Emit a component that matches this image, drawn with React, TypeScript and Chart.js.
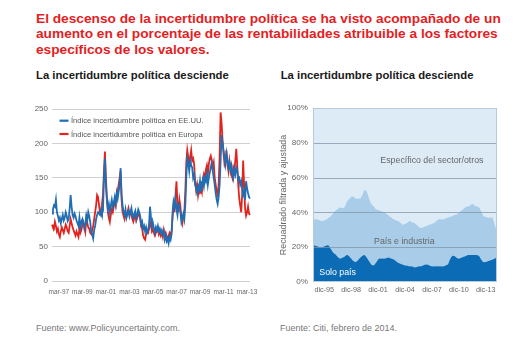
import React, { useEffect, useRef } from 'react';
import { Chart, registerables } from 'chart.js';

Chart.register(...registerables);

const FONT = '"Liberation Sans", Arial, Helvetica, sans-serif';

// ---------- Texts ----------
const titleLines = [
  'El descenso de la incertidumbre política se ha visto acompañado de un',
  'aumento en el porcentaje de las rentabilidades atribuible a los factores',
  'específicos de los valores.',
];
const leftSubtitle = 'La incertidumbre política desciende';
const rightSubtitle = 'La incertidumbre política desciende';
const leftSource = 'Fuente: www.Policyuncertainty.com.';
const rightSource = 'Fuente: Citi, febrero de 2014.';

// ---------- Left chart data (monthly, from ago-96) ----------
const MESES = ['ene', 'feb', 'mar', 'abr', 'may', 'jun', 'jul', 'ago', 'sep', 'oct', 'nov', 'dic'];
const leftStartMonth = 7; // ago
const leftStartYear = 1996;
const leftTickLabels = ['mar-97', 'mar-99', 'mar-01', 'mar-03', 'mar-05', 'mar-07', 'mar-09', 'mar-11', 'mar-13'];
const usLabel = 'Índice incertidumbre política en EE.UU.';
const euLabel = 'Índice incertidumbre política en Europa';

const usIndex = [
  98, 104, 110, 108, 118, 100, 95, 88, 92, 84, 90, 96,
  88, 92, 100, 95, 87, 90, 105, 125, 108, 96, 92, 98,
  94, 88, 84, 80, 92, 78, 86, 90, 84, 76, 82, 95,
  88, 100, 94, 86, 72, 68, 62, 74, 80, 90, 96, 100,
  98, 96, 104, 98, 102, 150, 178, 140, 118, 105, 112, 100,
  110, 118, 108, 114, 122, 112, 128, 120, 130, 140, 164, 125,
  110, 100, 96, 104, 92, 98, 102, 94, 100, 106, 96, 92,
  98, 102, 90, 96, 104, 100, 94, 82, 86, 76, 80, 72,
  78, 70, 74, 82, 108, 92, 80, 84, 76, 70, 78, 74,
  80, 72, 76, 70, 74, 68, 72, 60, 66, 58, 62, 55,
  64, 60, 68, 100, 115, 108, 120, 104, 96, 112, 110, 100,
  86, 92, 98, 90, 110, 150, 178, 172, 160, 175, 168, 165,
  150, 155, 140, 135, 128, 138, 132, 145, 130, 140, 148, 138,
  150, 145, 155, 140, 150, 158, 165, 172, 160, 150, 140, 128,
  118, 112, 122, 140, 175, 212, 200, 190, 180, 170, 185, 175,
  165, 172, 160, 168, 158, 150, 162, 155, 165, 160, 148, 150,
  140, 145, 135, 125, 130, 118, 145, 135, 128, 122, 120,
];

const euIndex = [
  82, 78, 76, 86, 80, 72, 76, 68, 64, 72, 78, 74,
  70, 76, 82, 78, 72, 70, 80, 90, 84, 78, 74, 70,
  66, 72, 68, 64, 76, 70, 74, 82, 86, 80, 72, 90,
  84, 78, 76, 70, 68, 74, 80, 90, 100, 110, 125, 122,
  110, 100, 96, 112, 125, 160, 188, 150, 120, 100, 92, 86,
  96, 104, 100, 108, 115, 110, 125, 130, 140, 150, 160, 118,
  100, 95, 90, 98, 94, 100, 106, 98, 100, 96, 90, 86,
  92, 98, 88, 92, 100, 96, 90, 80, 76, 66, 62, 60,
  68, 72, 70, 76, 86, 80, 72, 74, 70, 66, 70, 72,
  76, 68, 72, 66, 70, 64, 74, 66, 70, 64, 60, 66,
  70, 66, 72, 92, 110, 100, 125, 145, 112, 100, 118, 108,
  92, 84, 94, 100, 130, 172, 190, 180, 168, 180, 190, 175,
  178, 170, 145, 132, 140, 125, 135, 128, 138, 130, 145, 155,
  150, 162, 168, 155, 170, 178, 182, 175, 165, 172, 150, 140,
  130, 125, 140, 180, 245, 230, 205, 185, 170, 175, 190, 170,
  160, 175, 165, 155, 150, 165, 160, 175, 192, 168, 140, 120,
  110, 100, 125, 175, 140, 105, 95, 100, 108, 98, 96,
];

// ---------- Right chart data (quarterly, from sep-94) ----------
const TRIMESTRES = ['mar', 'jun', 'sep', 'dic'];
const rightStartQuarter = 2; // sep
const rightStartYear = 1994;
const rightTickLabels = ['dic-95', 'dic-98', 'dic-01', 'dic-04', 'dic-07', 'dic-10', 'dic-13'];
const rightYTitle = 'Recuadrado filtrada y ajustada';
const soloLabel = 'Solo país';
const paisLabel = 'País e industria';
const especificoLabel = 'Específico del sector/otros';

// share "Solo país" (%)
const soloPais = [
  21, 21, 20.5, 20, 20, 20.5, 21, 21, 19, 17,
  16, 14.5, 13.5, 14, 14.5, 15.5, 15, 13.5, 12, 11.5,
  12.5, 14, 15, 15.5, 14, 12, 10, 9.5, 11, 13,
  13.5, 13.5, 13.5, 14, 14, 13.5, 13, 12, 11, 10.5,
  10, 9.5, 9.5, 9, 9, 8.5, 8.5, 9, 9, 9.5,
  10, 10, 9.5, 9, 9, 9, 9, 9, 9, 9.5,
  10, 13, 15, 15, 14, 13.5, 14, 14.5, 15, 15.5,
  15.5, 15.5, 15.5, 15.5, 15, 13, 11.5, 11.5, 12, 12.5,
  13, 13.5, 14.5,
];
// cumulative "Solo país" + "País e industria" (%)
const paisEIndustriaAcum = [
  36, 36, 36, 35.5, 35, 35.5, 36, 37, 38, 39.5,
  41, 42, 43, 42.5, 43, 46, 47.5, 49, 49, 48,
  48, 48, 50, 53, 52, 48, 45, 43.5, 42, 41.5,
  41, 40.5, 40, 39, 38, 37, 36, 35.5, 35, 34,
  33, 33.5, 34, 35, 34.5, 34, 33, 32, 31, 31.5,
  32, 32.5, 33, 33.5, 34, 35, 36, 36, 36, 36.5,
  37, 37.5, 38, 38.5, 39, 40, 41, 42, 43, 43.5,
  44, 45, 44, 43.5, 43, 40.5, 38, 37.5, 37, 37,
  37, 33, 29,
];
const TOTAL = 100;

// in-plot labels (data coordinates: category index, value %)
const rightNotes = [
  { text: especificoLabel, index: 53, value: 69.5, color: '#666666', align: 'center' as CanvasTextAlign },
  { text: paisLabel, index: 40.7, value: 23, color: '#666666', align: 'center' as CanvasTextAlign },
  { text: soloLabel, index: 2.8, value: 5.4, color: '#ffffff', align: 'left' as CanvasTextAlign },
];

const monthLabels = usIndex.map((_, i) => {
  const m = leftStartMonth + i;
  return MESES[m % 12] + '-' + String(leftStartYear + Math.floor(m / 12)).slice(2);
});
const quarterLabels = soloPais.map((_, i) => {
  const q = rightStartQuarter + i;
  return TRIMESTRES[q % 4] + '-' + String(rightStartYear + Math.floor(q / 4)).slice(2);
});

const legendInside = {
  id: 'legendInside',
  afterDatasetsDraw(chart: any) {
    const { ctx, chartArea } = chart;
    ctx.save();
    ctx.font = `7.6px ${FONT}`;
    ctx.textBaseline = 'middle';
    ctx.textAlign = 'left';
    chart.data.datasets.forEach((ds: any, i: number) => {
      const y = chartArea.top + 11.7 + i * 13.3;
      const x = chartArea.left + 7.5;
      ctx.strokeStyle = ds.borderColor;
      ctx.lineWidth = 2.2;
      ctx.beginPath();
      ctx.moveTo(x, y);
      ctx.lineTo(x + 9, y);
      ctx.stroke();
      ctx.fillStyle = '#555555';
      ctx.fillText(ds.label, x + 11.5, y + 0.5);
    });
    ctx.restore();
  },
};

const rightFrame = {
  id: 'rightFrame',
  afterDatasetsDraw(chart: any) {
    const { ctx, chartArea: a, scales } = chart;
    const y = scales.y;
    const x = scales.x;
    ctx.save();
    ctx.lineWidth = 1;
    ctx.strokeStyle = 'rgba(130,148,165,0.75)';
    y.ticks.forEach((t: any) => {
      if (t.value <= y.min || t.value >= y.max) return;
      const py = Math.round(y.getPixelForValue(t.value)) + 0.5;
      ctx.beginPath();
      ctx.moveTo(a.left, py);
      ctx.lineTo(a.right, py);
      ctx.stroke();
    });
    ctx.strokeStyle = '#b7cadb';
    ctx.strokeRect(Math.round(a.left) + 0.5, Math.round(a.top) + 0.5, Math.round(a.width) - 1, Math.round(a.height) - 1);
    ctx.font = `8.8px ${FONT}`;
    ctx.textBaseline = 'middle';
    rightNotes.forEach((n) => {
      ctx.fillStyle = n.color;
      ctx.textAlign = n.align;
      ctx.fillText(n.text, x.getPixelForValue(n.index), y.getPixelForValue(n.value));
    });
    ctx.restore();
  },
};

function LeftChart() {
  const ref = useRef<HTMLCanvasElement>(null);
  useEffect(() => {
    if (!ref.current) return;
    const chart = new Chart(ref.current, {
      type: 'line',
      data: {
        labels: monthLabels,
        datasets: [
          { label: usLabel, data: usIndex, borderColor: '#1f6db3', borderWidth: 1.8, pointRadius: 0, tension: 0, fill: false },
          { label: euLabel, data: euIndex, borderColor: '#e2231e', borderWidth: 1.8, pointRadius: 0, tension: 0, fill: false },
        ],
      },
      options: {
        animation: false,
        responsive: false,
        layout: { padding: { left: 0, right: 10, top: 9, bottom: 0 } },
        plugins: { legend: { display: false }, tooltip: { enabled: false } },
        scales: {
          x: {
            type: 'category',
            grid: { display: false, drawTicks: false },
            border: { display: false },
            ticks: {
              autoSkip: false,
              maxRotation: 0,
              minRotation: 0,
              padding: 7,
              color: '#666666',
              font: { family: FONT, size: 6.5 },
              callback: (_v: any, i: number) => (leftTickLabels.includes(monthLabels[i]) ? monthLabels[i] : ''),
            },
            afterFit: (s: any) => { s.height = 24; },
          },
          y: {
            min: 0,
            max: 250,
            ticks: { stepSize: 50, padding: 4, color: '#666666', font: { family: FONT, size: 8 } },
            grid: { color: '#d0d0d0', lineWidth: 1, drawTicks: false },
            border: { display: false },
            afterFit: (s: any) => { s.width = 52; },
          },
        },
      } as any,
      plugins: [legendInside],
    });
    return () => chart.destroy();
  }, []);
  return <canvas ref={ref} width={260} height={205} style={{ position: 'absolute', left: 0, top: 100, width: 260, height: 205 }} />;
}

function RightChart() {
  const ref = useRef<HTMLCanvasElement>(null);
  useEffect(() => {
    if (!ref.current) return;
    const paisBand = paisEIndustriaAcum.map((v, i) => v - soloPais[i]);
    const especificoBand = paisEIndustriaAcum.map((v) => TOTAL - v);
    const chart = new Chart(ref.current, {
      type: 'line',
      data: {
        labels: quarterLabels,
        datasets: [
          { label: soloLabel, data: soloPais, backgroundColor: '#0b6bb4', borderWidth: 0, pointRadius: 0, tension: 0.25, fill: 'origin' },
          { label: paisLabel, data: paisBand, backgroundColor: '#a9cde9', borderWidth: 0, pointRadius: 0, tension: 0.25, fill: '-1' },
          { label: especificoLabel, data: especificoBand, backgroundColor: '#ddebf7', borderWidth: 0, pointRadius: 0, tension: 0.25, fill: '-1' },
        ],
      },
      options: {
        animation: false,
        responsive: false,
        layout: { padding: { left: 18, right: 23, top: 13, bottom: 0 } },
        plugins: { legend: { display: false }, tooltip: { enabled: false } },
        scales: {
          x: {
            type: 'category',
            grid: { display: false, drawTicks: false },
            border: { display: false },
            ticks: {
              autoSkip: false,
              maxRotation: 0,
              minRotation: 0,
              padding: 3.7,
              color: '#666666',
              font: { family: FONT, size: 7.2 },
              callback: (_v: any, i: number) => (rightTickLabels.includes(quarterLabels[i]) ? quarterLabels[i] : ''),
            },
            afterFit: (s: any) => { s.height = 28; },
          },
          y: {
            stacked: true,
            min: 0,
            max: 100,
            ticks: { stepSize: 20, padding: 5, color: '#666666', font: { family: FONT, size: 8.1 }, callback: (v: any) => v + '%' },
            grid: { display: false, drawTicks: false },
            border: { display: false },
            title: { display: true, text: rightYTitle, color: '#666666', font: { family: FONT, size: 8.9 }, padding: { top: 0, bottom: 0 } },
            afterFit: (s: any) => { s.width = 35; },
          },
        },
      } as any,
      plugins: [rightFrame],
    });
    return () => chart.destroy();
  }, []);
  return <canvas ref={ref} width={260} height={215} style={{ position: 'absolute', left: 260, top: 95, width: 260, height: 215 }} />;
}

export default function App() {
  return (
    <div style={{ position: 'fixed', left: 0, top: 0, width: 520, height: 350, background: '#ffffff', overflow: 'hidden', fontFamily: FONT }}>
      <div style={{ position: 'absolute', left: 36, top: 10.8, color: '#e31e24', fontWeight: 700, fontSize: 13.7, lineHeight: '15.5px', whiteSpace: 'nowrap' }}>
        {titleLines.map((l, i) => (
          <div key={i}>{l}</div>
        ))}
      </div>
      <div style={{ position: 'absolute', left: 36, top: 68.1, color: '#1a1a1a', fontWeight: 700, fontSize: 11.3, lineHeight: '14px', whiteSpace: 'nowrap' }}>{leftSubtitle}</div>
      <div style={{ position: 'absolute', left: 280.7, top: 68.1, color: '#1a1a1a', fontWeight: 700, fontSize: 11.3, lineHeight: '14px', whiteSpace: 'nowrap' }}>{rightSubtitle}</div>
      <LeftChart />
      <RightChart />
      <div style={{ position: 'absolute', left: 36, top: 322.7, color: '#777777', fontSize: 9, lineHeight: '11px', whiteSpace: 'nowrap' }}>{leftSource}</div>
      <div style={{ position: 'absolute', left: 280, top: 322.7, color: '#777777', fontSize: 9, lineHeight: '11px', whiteSpace: 'nowrap' }}>{rightSource}</div>
    </div>
  );
}
